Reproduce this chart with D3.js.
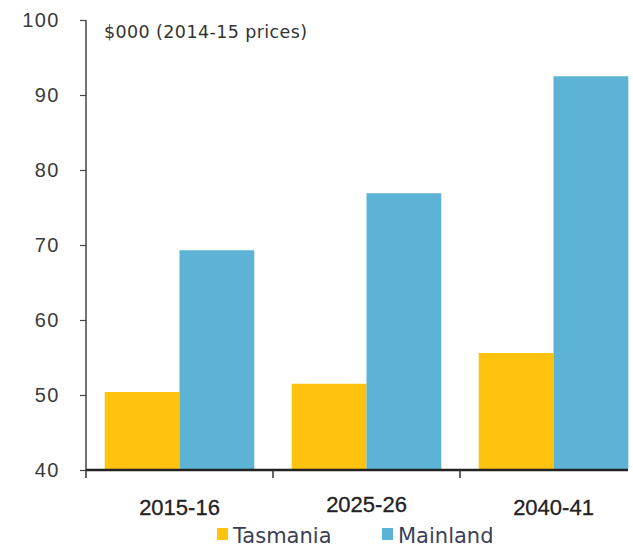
<!DOCTYPE html>
<html><head><meta charset="utf-8">
<script src="https://cdn.jsdelivr.net/npm/d3@7"></script>
<style>body{margin:0;background:#fff;} svg{display:block;font-family:"DejaVu Sans","Noto Sans",sans-serif;}</style>
</head><body>
<svg id="c" width="633" height="550"></svg>
<script>
const categories = ["2015-16", "2025-26", "2040-41"];
const seriesNames = ["Tasmania", "Mainland"];
const tasmania = [50.4, 51.5, 55.6];
const mainland = [69.3, 76.9, 92.5];
const yTicks = [40, 50, 60, 70, 80, 90, 100];
const colors = ["#FFC20E", "#5DB3D6"];
const unitLabel = "$000 (2014-15 prices)";

const svg = d3.select("#c");
const x0 = 86, x1 = 647, yTop = 20, yBot = 470;
const x = d3.scaleBand().domain(categories).range([x0, x1]).paddingInner(0).paddingOuter(0);
const xs = d3.scaleBand().domain(seriesNames).range([0, x.bandwidth()]).paddingInner(0).paddingOuter(0.25);
const y = d3.scaleLinear().domain([40, 100]).range([yBot, yTop]);

const rows = categories.map((c, i) => ({c, vals: [tasmania[i], mainland[i]]}));
const g = svg.append("g");
rows.forEach(r => {
  r.vals.forEach((v, j) => {
    g.append("rect")
      .attr("x", x(r.c) + xs(seriesNames[j]))
      .attr("y", y(v))
      .attr("width", xs.bandwidth())
      .attr("height", y(40) - y(v))
      .attr("fill", colors[j]);
  });
});

// y axis
const ya = svg.append("g").attr("transform", `translate(${x0},0)`)
  .call(d3.axisLeft(y).tickValues(yTicks).tickSize(6).tickPadding(20).tickFormat(d3.format("d")));
ya.select(".domain").attr("stroke", "#444").attr("stroke-width", 1.5).attr("d", `M0,${yTop}V${yBot}`);
ya.selectAll(".tick line").attr("stroke", "#444").attr("stroke-width", 1.2);
ya.selectAll(".tick text").attr("font-size", 20).attr("letter-spacing", 1.5).attr("fill", "#3a3a3a");

// x axis
const xa = svg.append("g").attr("transform", `translate(0,${yBot})`)
  .call(d3.axisBottom(x).tickSize(0));
xa.select(".domain").attr("stroke", "#222").attr("stroke-width", 2.5).attr("d", `M${x0},0H628`);
xa.selectAll(".tick text").attr("font-size", 22).attr("fill", "#222")
  .attr("stroke", "#222").attr("stroke-width", 0.3)
  .attr("dy", 0).attr("y", (d, i) => i === 1 ? 42 : 45);
// boundary ticks between categories
const bounds = categories.map(c => x(c));
xa.selectAll(".bnd").data(bounds).enter().append("line")
  .attr("x1", d => d).attr("x2", d => d).attr("y1", 0).attr("y2", 8)
  .attr("stroke", "#333").attr("stroke-width", 1.5);

// unit label
svg.append("text").attr("x", 104).attr("y", 38).attr("font-size", 17.5).attr("letter-spacing", 0.4)
  .attr("fill", "#333").text(unitLabel);

// legend
const legX = [217, 382];
seriesNames.forEach((n, i) => {
  svg.append("rect").attr("x", legX[i]).attr("y", 528).attr("width", 11).attr("height", 12).attr("fill", colors[i]);
  svg.append("text").attr("x", legX[i] + 16).attr("y", 543).attr("font-size", 21).attr("fill", "#3a3f55").text(n);
});
</script>
</body></html>
